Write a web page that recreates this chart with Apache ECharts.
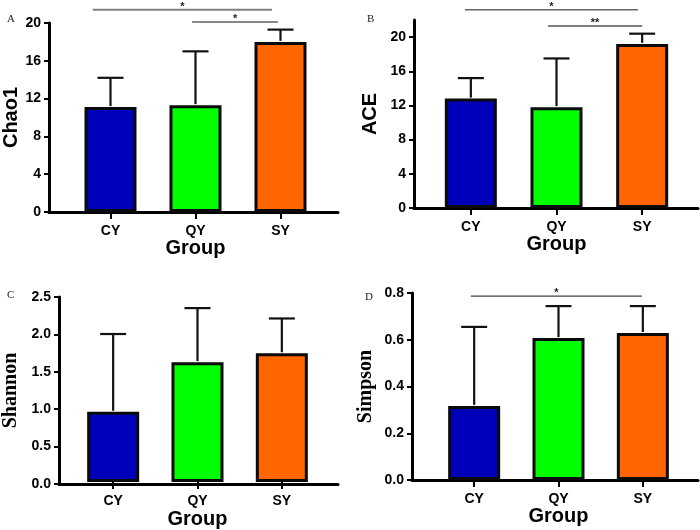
<!DOCTYPE html>
<html>
<head>
<meta charset="utf-8">
<script src="https://cdn.jsdelivr.net/npm/echarts@6/dist/echarts.min.js"></script>
<style>
  html, body { margin: 0; padding: 0; background: #fff; }
  #main { width: 700px; height: 530px; }
</style>
</head>
<body>
<div id="main"></div>
<script>
  // 数据
  var groups = ['CY', 'QY', 'SY'];
  var barColors = ['#0000BB', '#00FF00', '#FF6600'];

  var chao1Mean = [11.1, 11.3, 18.0];
  var chao1Upper = [14.2, 17.0, 19.3];
  var chao1Ticks = [0, 4, 8, 12, 16, 20];
  var chao1Sig = [[-0.21, 1.9, 21.4, '*'], [0.96, 1.97, 20.1, '*']];

  var aceMean = [12.8, 11.8, 19.2];
  var aceUpper = [15.2, 17.5, 20.4];
  var aceTicks = [0, 4, 8, 12, 16, 20];
  var aceSig = [[-0.07, 1.95, 23.2, '*'], [0.9, 2.0, 21.3, '**']];

  var shannonMean = [0.95, 1.62, 1.74];
  var shannonUpper = [2.0, 2.35, 2.21];
  var shannonTicks = [0, 0.5, 1.0, 1.5, 2.0, 2.5];
  var shannonSig = [];

  var simpsonMean = [0.317, 0.607, 0.629];
  var simpsonUpper = [0.655, 0.744, 0.744];
  var simpsonTicks = [0, 0.2, 0.4, 0.6, 0.8];
  var simpsonSig = [[-0.04, 1.99, 0.787, '*']];

  var sans = 'Liberation Sans, Arial, sans-serif';
  var serif = 'Liberation Serif, Times New Roman, serif';

  // 每个小图的布局
  var panels = [
    { letter: 'A', lx: 2, ly: 9, name: 'Chao1', nameFont: sans, nameGap: 28,
      mean: chao1Mean, upper: chao1Upper, ticks: chao1Ticks, sig: chao1Sig, max: 20, dec: 0,
      outer: { left: 49, top: 23, width: 289, height: 189 }, inner: { left: 68, width: 255 },
      sigColor: ['#808080', '#111'], sigWidth: [1.8, 1.1] },
    { letter: 'B', lx: 362, ly: 9, name: 'ACE', nameFont: sans, nameGap: 34,
      mean: aceMean, upper: aceUpper, ticks: aceTicks, sig: aceSig, max: 22, dec: 0,
      outer: { left: 414, top: 20, width: 284, height: 188 }, inner: { left: 428, width: 257 },
      sigColor: ['#666', '#555'], sigWidth: [1.5, 1.3] },
    { letter: 'C', lx: 2, ly: 285, name: 'Shannon', nameFont: serif, nameGap: 38,
      mean: shannonMean, upper: shannonUpper, ticks: shannonTicks, sig: shannonSig, max: 2.5, dec: 1,
      outer: { left: 57, top: 297, width: 281, height: 187 }, inner: { left: 71, width: 253 },
      sigColor: [], sigWidth: [] },
    { letter: 'D', lx: 360, ly: 287, name: 'Simpson', nameFont: serif, nameGap: 36,
      mean: simpsonMean, upper: simpsonUpper, ticks: simpsonTicks, sig: simpsonSig, max: 0.8, dec: 1,
      outer: { left: 412, top: 293, width: 286, height: 187 }, inner: { left: 432, width: 253 },
      sigColor: ['#444'], sigWidth: [1.2] }
  ];

  var grid = [], xAxis = [], yAxis = [], series = [], title = [];

  panels.forEach(function (p, k) {
    var gOuter = k * 2, gInner = k * 2 + 1;
    grid.push({ left: p.outer.left, top: p.outer.top, width: p.outer.width, height: p.outer.height });
    grid.push({ left: p.inner.left, top: p.outer.top, width: p.inner.width, height: p.outer.height });

    title.push({ text: p.letter, left: p.lx, top: p.ly,
      textStyle: { fontFamily: serif, fontSize: 11, fontWeight: 'normal', color: '#222' } });

    // 外框坐标轴（轴线）
    xAxis.push({
      gridIndex: gOuter, type: 'value', min: 0, max: 1,
      axisLine: { show: true, lineStyle: { color: '#000', width: 3 } },
      axisTick: { show: false }, axisLabel: { show: false }, splitLine: { show: false }
    });
    yAxis.push({
      gridIndex: gOuter, type: 'value', min: 0, max: p.max,
      name: p.name, nameLocation: 'middle', nameGap: p.nameGap,
      nameTextStyle: { fontFamily: p.nameFont, fontSize: 20, fontWeight: 'bold', color: '#000' },
      axisLine: { show: true, lineStyle: { color: '#000', width: 3 } },
      axisTick: { show: true, length: 5, lineStyle: { color: '#000', width: 2 }, customValues: p.ticks },
      axisLabel: { show: true, margin: 8, fontFamily: sans, fontSize: 14, fontWeight: 'bold', color: '#000',
        customValues: p.ticks,
        formatter: function (v) { return Number(v).toFixed(p.dec); } },
      splitLine: { show: false }
    });

    // 内部分类轴（柱子）
    xAxis.push({
      gridIndex: gInner, type: 'category', data: groups,
      name: 'Group', nameLocation: 'middle', nameGap: 26,
      nameTextStyle: { fontFamily: sans, fontSize: 20, fontWeight: 'bold', color: '#000' },
      axisLine: { show: false },
      axisTick: { show: true, alignWithLabel: true, length: 7, lineStyle: { color: '#000', width: 2 } },
      axisLabel: { margin: 12, fontFamily: sans, fontSize: 14, fontWeight: 'bold', color: '#000' },
      splitLine: { show: false }
    });
    yAxis.push({ gridIndex: gInner, type: 'value', min: 0, max: p.max, show: false });

    series.push({
      type: 'bar', xAxisIndex: gInner, yAxisIndex: gInner, barWidth: 52,
      data: p.mean.map(function (v, i) {
        return { value: v, itemStyle: { color: barColors[i] } };
      }),
      itemStyle: { borderColor: '#0a0a0a', borderWidth: 3 },
      silent: true
    });

    // 误差线
    series.push({
      type: 'custom', xAxisIndex: gInner, yAxisIndex: gInner, z: 5, silent: true,
      data: p.mean.map(function (v, i) { return [i, v, p.upper[i]]; }),
      renderItem: function (params, api) {
        var a = api.coord([api.value(0), api.value(1)]);
        var b = api.coord([api.value(0), api.value(2)]);
        var st = { stroke: '#111', lineWidth: 2.2 };
        return { type: 'group', children: [
          { type: 'line', shape: { x1: a[0], y1: a[1] - 1, x2: b[0], y2: b[1] }, style: st },
          { type: 'line', shape: { x1: b[0] - 13, y1: b[1], x2: b[0] + 13, y2: b[1] }, style: st }
        ] };
      }
    });

    // 显著性标记
    if (p.sig.length) {
      series.push({
        type: 'custom', xAxisIndex: gInner, yAxisIndex: gInner, z: 5, silent: true, clip: false,
        data: p.sig.map(function (s, i) { return [i, s[2]]; }),
        renderItem: function (params, api) {
          var s = p.sig[params.dataIndex];
          var c0 = api.coord([0, s[2]]);
          var c1 = api.coord([1, s[2]]);
          var step = c1[0] - c0[0];
          var x1 = c0[0] + s[0] * step, x2 = c0[0] + s[1] * step;
          return { type: 'group', children: [
            { type: 'line', shape: { x1: x1, y1: c0[1], x2: x2, y2: c0[1] },
              style: { stroke: p.sigColor[params.dataIndex], lineWidth: p.sigWidth[params.dataIndex] } },
            { type: 'text', x: (x1 + x2) / 2, y: c0[1] - 3,
              style: { text: s[3], fill: '#222', font: 'bold 11px ' + sans, align: 'center', verticalAlign: 'middle' } }
          ] };
        }
      });
    }
  });

  var chart = echarts.init(document.getElementById('main'));
  chart.setOption({
    animation: false,
    backgroundColor: '#fff',
    title: title,
    grid: grid,
    xAxis: xAxis,
    yAxis: yAxis,
    series: series
  });
</script>
</body>
</html>
